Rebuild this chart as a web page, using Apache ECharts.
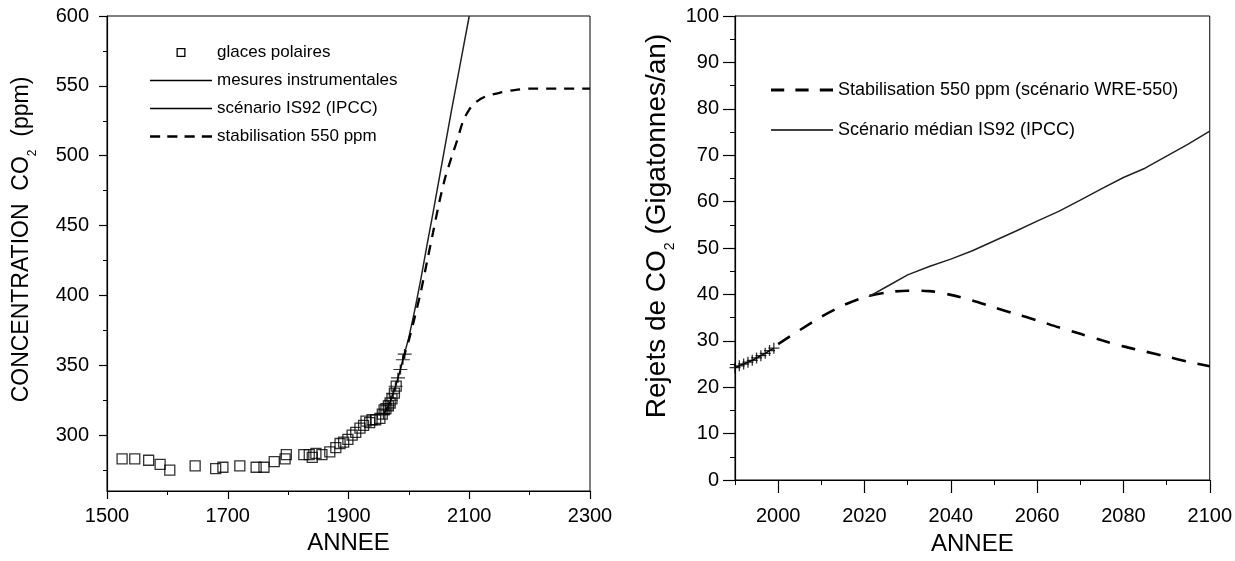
<!DOCTYPE html>
<html>
<head>
<meta charset="utf-8">
<script src="https://cdn.jsdelivr.net/npm/echarts@6/dist/echarts.min.js"></script>
<style>
html,body{margin:0;padding:0;background:#fff;}
#main{width:1235px;height:561px;}
</style>
</head>
<body>
<div id="main"></div>
<script>
// ---------- Left chart data ----------
const iceYears = [1525,1546,1569,1588,1604,1646,1680,1692,1720,1747,1760,1777,1795,1797,1826,1835,1840,1846,1856,1869,1879,1886,1892,1899,1906,1912,1919,1925,1929,1935,1939,1945,1952,1956,1959,1962,1966,1969,1972,1976,1979];
const iceCO2   = [283,283,282,279,275,278,276,277,278,277,277,281,283,286,286,286,284,287,286,288,291,294,295,297,300,302,305,307,310,309,311,311,312,315,318,319,321,323,326,330,335];
const instYearsL = [1958,1962,1966,1970,1974,1978,1982,1986,1990,1993];
const instCO2L   = [315,318,321,325,330,335,341,347,354,358];
const is92YearsL = [1990,2000,2010,2020,2030,2040,2050,2060,2070,2080,2090,2100];
const is92CO2L   = [354,370,390,412,436,459,483,507,531,554,577,600];
const stabYearsL = [1990,2000,2010,2020,2030,2040,2050,2060,2070,2080,2090,2100,2110,2125,2150,2175,2200,2250,2300];
const stabCO2L   = [354,368,385,403,424,445,466,484,498,511,525,533,538,542,545,547,548,548,548];
const xLabelsL = [1500,1700,1900,2100,2300];
const xMinorL  = [1600,1800,2000,2200];
const yLabelsL = [300,350,400,450,500,550,600];
const yMinorL  = [275,325,375,425,475,525,575];

// ---------- Right chart data ----------
const measYearsR = [1990,1991,1992,1993,1994,1995,1996,1997,1998,1999];
const measValsR  = [24.2,24.6,25.0,25.4,25.8,26.3,26.8,27.3,27.9,28.4];
const wreYears = [2000,2005,2010,2015,2020,2025,2030,2035,2040,2045,2050,2055,2060,2065,2070,2075,2080,2085,2090,2095,2100];
const wreVals  = [29.3,32.3,35.2,37.6,39.4,40.4,40.8,40.7,39.9,38.7,37.2,35.8,34.4,32.9,31.5,30.1,28.8,27.7,26.6,25.5,24.5];
const is92YearsR = [2021,2025,2030,2035,2040,2045,2050,2055,2060,2065,2070,2075,2080,2085,2090,2095,2100];
const is92ValsR  = [39.5,41.6,44.2,46.0,47.6,49.4,51.5,53.6,55.8,57.9,60.3,62.8,65.2,67.2,69.8,72.4,75.2];
const xLabelsR = [2000,2020,2040,2060,2080,2100];
const xMinorR  = [1990,2010,2030,2050,2070,2090];

const zip = (a, b) => a.map((v, i) => [v, b[i]]);
const FONT = 'Liberation Sans, Arial, sans-serif';
const BLACK = '#000';
const cross = 'path://M0,5L10,5M5,0L5,10';
const plain = v => String(v);

// legend sample icons (filled shapes)
const iconSolid = 'path://M0,0h62v1.6h-62Z';
const iconDashL = 'path://M0,0h10v2.5h-10Z M17,0h10v2.5h-10Z M34,0h10v2.5h-10Z M51,0h10v2.5h-10Z';
const iconDashR = 'path://M0,0h13v3h-13Z M24,0h13v3h-13Z M48,0h13v3h-13Z';
const iconSquare = 'path://M0,0h9v9h-9Z M1.3,1.3v6.4h6.4v-6.4Z';
const legItem = (name, icon) => ({name: name, icon: icon, itemStyle: {color: BLACK, borderWidth: 0, opacity: 1}});

const axisLine = {show: true, lineStyle: {color: BLACK, width: 1.2}};
const tickFont = {fontSize: 20, fontFamily: FONT, color: BLACK};

const chart = echarts.init(document.getElementById('main'), null, {renderer: 'canvas'});
chart.setOption({
  backgroundColor: '#fff',
  animation: false,
  grid: [
    {left: 107, right: 645, top: 16, bottom: 70, show: true, borderColor: BLACK, borderWidth: 1, backgroundColor: 'transparent'},
    {left: 735, right: 18, top: 16, bottom: 74, show: true, borderColor: BLACK, borderWidth: 1, backgroundColor: 'transparent'}
  ],
  legend: [
    {
      orient: 'vertical', left: 145, top: 39, itemWidth: 62, itemHeight: 9, itemGap: 11,
      symbolKeepAspect: true,
      textStyle: {fontSize: 17, fontFamily: FONT, color: BLACK},
      data: [
        legItem('glaces polaires', iconSquare),
        legItem('mesures instrumentales', iconSolid),
        legItem('scénario IS92 (IPCC)', iconSolid),
        legItem('stabilisation 550 ppm', iconDashL)
      ]
    },
    {
      orient: 'vertical', left: 766, top: 76, itemWidth: 62, itemHeight: 9, itemGap: 22,
      symbolKeepAspect: true,
      textStyle: {fontSize: 18, fontFamily: FONT, color: BLACK},
      data: [
        legItem('Stabilisation 550 ppm (scénario WRE-550)', iconDashR),
        legItem('Scénario médian IS92 (IPCC)', iconSolid)
      ]
    }
  ],
  xAxis: [
    {
      type: 'value', gridIndex: 0, position: 'bottom', min: 1500, max: 2300,
      axisLine: axisLine, splitLine: {show: false},
      axisTick: {show: true, customValues: xLabelsL, length: 8, lineStyle: {color: BLACK, width: 1.2}},
      axisLabel: Object.assign({customValues: xLabelsL, margin: 15, formatter: plain}, tickFont),
      name: 'ANNEE', nameLocation: 'middle', nameGap: 40,
      nameTextStyle: {fontSize: 24, fontFamily: FONT, color: BLACK}
    },
    {
      type: 'value', gridIndex: 0, position: 'bottom', min: 1500, max: 2300,
      axisLine: {show: false}, splitLine: {show: false}, axisLabel: {show: false},
      axisTick: {show: true, customValues: xMinorL, length: 4, lineStyle: {color: BLACK, width: 1}}
    },
    {
      type: 'value', gridIndex: 1, position: 'bottom', min: 1990, max: 2100,
      axisLine: axisLine, splitLine: {show: false},
      axisTick: {show: true, customValues: xLabelsR, length: 13, lineStyle: {color: BLACK, width: 1.2}},
      axisLabel: Object.assign({customValues: xLabelsR, margin: 26, formatter: plain}, tickFont),
      name: 'ANNEE', nameLocation: 'middle', nameGap: 52,
      nameTextStyle: {fontSize: 24, fontFamily: FONT, color: BLACK}
    },
    {
      type: 'value', gridIndex: 1, position: 'bottom', min: 1990, max: 2100,
      axisLine: {show: false}, splitLine: {show: false}, axisLabel: {show: false},
      axisTick: {show: true, customValues: xMinorR, length: 5, lineStyle: {color: BLACK, width: 1}}
    }
  ],
  yAxis: [
    {
      type: 'value', gridIndex: 0, position: 'left', min: 260, max: 600,
      axisLine: axisLine, splitLine: {show: false},
      axisTick: {show: true, customValues: yLabelsL, length: 8, lineStyle: {color: BLACK, width: 1.2}},
      axisLabel: Object.assign({customValues: yLabelsL, margin: 18, formatter: plain}, tickFont),
      name: '{a|CONCENTRATION  CO}{s|2}{a|  (ppm)}', nameLocation: 'middle', nameGap: 68,
      nameTextStyle: {
        padding: [0, 0, 0, 28],
        rich: {
          a: {fontSize: 23, fontFamily: FONT, color: BLACK, lineHeight: 29, verticalAlign: 'top'},
          s: {fontSize: 12, fontFamily: FONT, color: BLACK, lineHeight: 12, verticalAlign: 'bottom'}
        }
      }
    },
    {
      type: 'value', gridIndex: 0, position: 'left', min: 260, max: 600,
      axisLine: {show: false}, splitLine: {show: false}, axisLabel: {show: false},
      axisTick: {show: true, customValues: yMinorL, length: 4, lineStyle: {color: BLACK, width: 1}}
    },
    {
      type: 'value', gridIndex: 1, position: 'left', min: 0, max: 100, interval: 10,
      axisLine: axisLine, splitLine: {show: false},
      axisTick: {show: true, length: 12, lineStyle: {color: BLACK, width: 1.2}},
      minorTick: {show: true, splitNumber: 2, length: 5, lineStyle: {color: BLACK, width: 1}},
      axisLabel: Object.assign({margin: 16, formatter: plain}, tickFont),
      name: '{a|Rejets de CO}{s|2}{a| (Gigatonnes/an)}', nameLocation: 'middle', nameGap: 58,
      nameTextStyle: {
        padding: [0, 0, 0, 44],
        rich: {
          a: {fontSize: 28, fontFamily: FONT, color: BLACK, lineHeight: 34, verticalAlign: 'top'},
          s: {fontSize: 14, fontFamily: FONT, color: BLACK, lineHeight: 14, verticalAlign: 'bottom'}
        }
      }
    }
  ],
  series: [
    {
      name: 'glaces polaires', type: 'scatter', xAxisIndex: 0, yAxisIndex: 0,
      symbol: 'rect', symbolSize: 10,
      itemStyle: {color: 'transparent', borderColor: BLACK, borderWidth: 1.3},
      data: zip(iceYears, iceCO2)
    },
    {
      name: 'mesures instrumentales', type: 'line', xAxisIndex: 0, yAxisIndex: 0,
      symbol: 'none', lineStyle: {color: BLACK, width: 1.5}, itemStyle: {color: BLACK},
      data: zip(instYearsL, instCO2L)
    },
    {
      name: 'mesures_points_L', type: 'scatter', xAxisIndex: 0, yAxisIndex: 0,
      symbol: cross, symbolSize: [14, 10],
      itemStyle: {color: 'none', borderColor: BLACK, borderWidth: 1.3},
      data: zip(instYearsL, instCO2L)
    },
    {
      name: 'scénario IS92 (IPCC)', type: 'line', xAxisIndex: 0, yAxisIndex: 0,
      symbol: 'none', lineStyle: {color: '#222', width: 1.5}, itemStyle: {color: '#222'},
      data: zip(is92YearsL, is92CO2L)
    },
    {
      name: 'stabilisation 550 ppm', type: 'line', xAxisIndex: 0, yAxisIndex: 0, smooth: 0.3,
      symbol: 'none', lineStyle: {color: BLACK, width: 2.3, type: [10, 8]}, itemStyle: {color: BLACK},
      data: zip(stabYearsL, stabCO2L)
    },
    {
      name: 'mesures_line_R', type: 'line', xAxisIndex: 2, yAxisIndex: 2,
      symbol: 'none', lineStyle: {color: BLACK, width: 1.5},
      data: zip(measYearsR, measValsR)
    },
    {
      name: 'mesures_points_R', type: 'scatter', xAxisIndex: 2, yAxisIndex: 2,
      symbol: cross, symbolSize: [11, 11],
      itemStyle: {color: 'none', borderColor: BLACK, borderWidth: 1.3},
      data: zip(measYearsR, measValsR)
    },
    {
      name: 'Stabilisation 550 ppm (scénario WRE-550)', type: 'line', xAxisIndex: 2, yAxisIndex: 2, smooth: 0.3,
      symbol: 'none', lineStyle: {color: BLACK, width: 2.6, type: [14, 12]}, itemStyle: {color: BLACK},
      data: zip(wreYears, wreVals)
    },
    {
      name: 'Scénario médian IS92 (IPCC)', type: 'line', xAxisIndex: 2, yAxisIndex: 2,
      symbol: 'none', lineStyle: {color: '#222', width: 1.5}, itemStyle: {color: '#222'},
      data: zip(is92YearsR, is92ValsR)
    }
  ]
});
</script>
</body>
</html>
